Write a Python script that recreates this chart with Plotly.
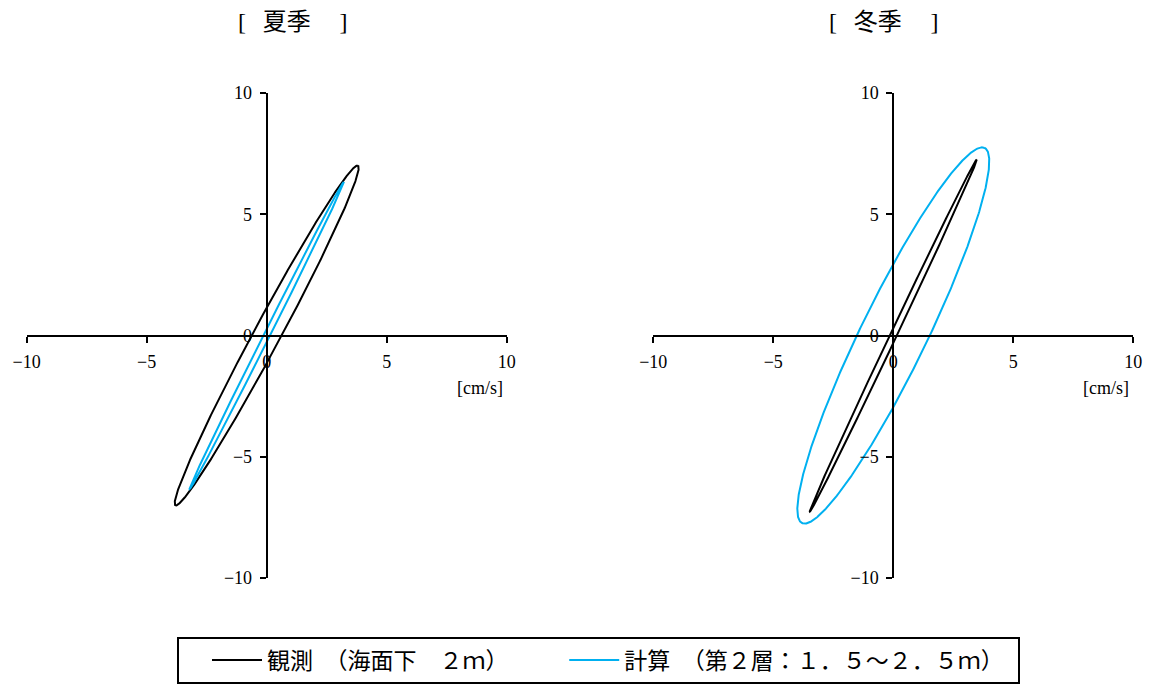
import numpy as np
import plotly.graph_objects as go

# page is 1154x684; the HTML body has an 8px margin, so the figure is inset
PAGE_W, PAGE_H, BODY = 1154, 684, 8
FW, FH = PAGE_W - BODY, PAGE_H - BODY


def px(x):
    return (x - BODY) / FW


def py(y):
    return 1 - (y - BODY) / FH


# ---- data: tidal current ellipse parameters (cm/s, degrees from east) ----
seasons = ["夏季", "冬季"]
series_names = ["観測\u2002（海面下\u3000２ｍ）", "計算\u2002（第２層：１．５～２．５ｍ）"]
series_colors = ["#000000", "#00B0F0"]
obs_semi_major = [7.97, 8.05]
obs_semi_minor = [0.55, 0.135]
obs_inclination = [61.5, 64.4]
calc_semi_major = [7.10, 8.62]
calc_semi_minor = [0.125, 1.37]
calc_inclination = [63.1, 63.8]
tick_values = [-10, -5, 0, 5, 10]
axis_range = [-10, 10]
unit_label = "[cm/s]"

FONT = "Liberation Serif, 'Noto Sans CJK JP', serif"


def ellipse(a, b, incl_deg, n=721):
    t = np.linspace(0, 2 * np.pi, n)
    th = np.deg2rad(incl_deg)
    u = a * np.cos(t)
    v = b * np.sin(t)
    return u * np.cos(th) - v * np.sin(th), u * np.sin(th) + v * np.cos(th)


fig = go.Figure()

legend_pad = ["\u3000\u2009\u2009", "\u2009\u2009"]
params = [
    (obs_semi_major, obs_semi_minor, obs_inclination),
    (calc_semi_major, calc_semi_minor, calc_inclination),
]
for si in range(2):
    xa = "x" if si == 0 else "x2"
    ya = "y" if si == 0 else "y2"
    for k, (A, B, I) in enumerate(params):
        x, y = ellipse(A[si], B[si], I[si])
        fig.add_trace(go.Scatter(
            x=x, y=y, mode="lines", xaxis=xa, yaxis=ya,
            line=dict(color=series_colors[k], width=2),
            name=series_names[k] + legend_pad[k], legendgroup=series_names[k],
            showlegend=(si == 0), hoverinfo="skip",
        ))

# geometry of plot areas (page pixels)
left_x0 = [26.7, 653.3]
plot_w = 480.0
y_top, y_bot = 93.0, 578.0
y_zero = (y_top + y_bot) / 2

common = dict(range=axis_range, showgrid=False, zeroline=False,
              tickvals=tick_values, fixedrange=True, automargin=False)

layout_axes = {}
for si in range(2):
    sx = "" if si == 0 else "2"
    ox = "3" if si == 0 else "4"
    xdom = [px(left_x0[si]), px(left_x0[si] + plot_w)]
    ydom = [py(y_bot), py(y_top)]
    x_center = px(left_x0[si] + plot_w / 2)
    y_center = py(y_zero)
    layout_axes["xaxis" + sx] = dict(
        common, domain=xdom, anchor="free", position=y_center,
        showline=True, linecolor="black", linewidth=2,
        ticks="outside", ticklen=6, tickwidth=1.5, tickcolor="black",
        tickfont=dict(size=18, family=FONT, color="black"),
        ticklabelstandoff=4,
    )
    layout_axes["xaxis" + ox] = dict(
        common, domain=xdom, anchor="free", position=y_center,
        overlaying="x" + sx, matches="x" + sx, showline=False,
        ticks="inside", ticklen=6, tickwidth=1.5, tickcolor="black",
        showticklabels=False,
    )
    layout_axes["yaxis" + sx] = dict(
        common, domain=ydom, anchor="free", position=x_center,
        showline=True, linecolor="black", linewidth=2,
        ticks="outside", ticklen=6, tickwidth=1.5, tickcolor="black",
        tickfont=dict(size=18, family=FONT, color="black"),
        ticklabelstandoff=4,
    )
    layout_axes["yaxis" + ox] = dict(
        common, domain=ydom, anchor="free", position=x_center,
        overlaying="y" + sx, matches="y" + sx, showline=False,
        ticks="inside", ticklen=6, tickwidth=1.5, tickcolor="black",
        showticklabels=False,
    )

annotations = []
title_x = [293, 884]
for si in range(2):
    annotations.append(dict(
        text="[\u2002\u2009" + seasons[si] + "\u2002\u2002\u2009]",
        xref="paper", yref="paper",
        x=px(title_x[si]), y=py(22), xanchor="center", yanchor="middle",
        showarrow=False, font=dict(size=24, family=FONT, color="black"),
    ))
    annotations.append(dict(
        text=unit_label, xref="x" if si == 0 else "x2", yref="paper",
        x=axis_range[1], y=py(388), xanchor="right", yanchor="middle",
        xshift=-2, showarrow=False,
        font=dict(size=18, family=FONT, color="black"),
    ))

fig.update_layout(
    width=FW, height=FH, autosize=False,
    margin=dict(l=0, r=0, t=0, b=0, autoexpand=False),
    paper_bgcolor="white", plot_bgcolor="white",
    font=dict(family=FONT, color="black"),
    showlegend=True,
    legend=dict(
        orientation="h", x=px(177), y=py(660),
        xanchor="left", yanchor="middle",
        bordercolor="black", borderwidth=2, bgcolor="white",
        font=dict(size=23, family=FONT, color="black"),
        itemwidth=50, indentation=30,
    ),
    annotations=annotations,
    **layout_axes,
)

fig.write_html("out.html")
